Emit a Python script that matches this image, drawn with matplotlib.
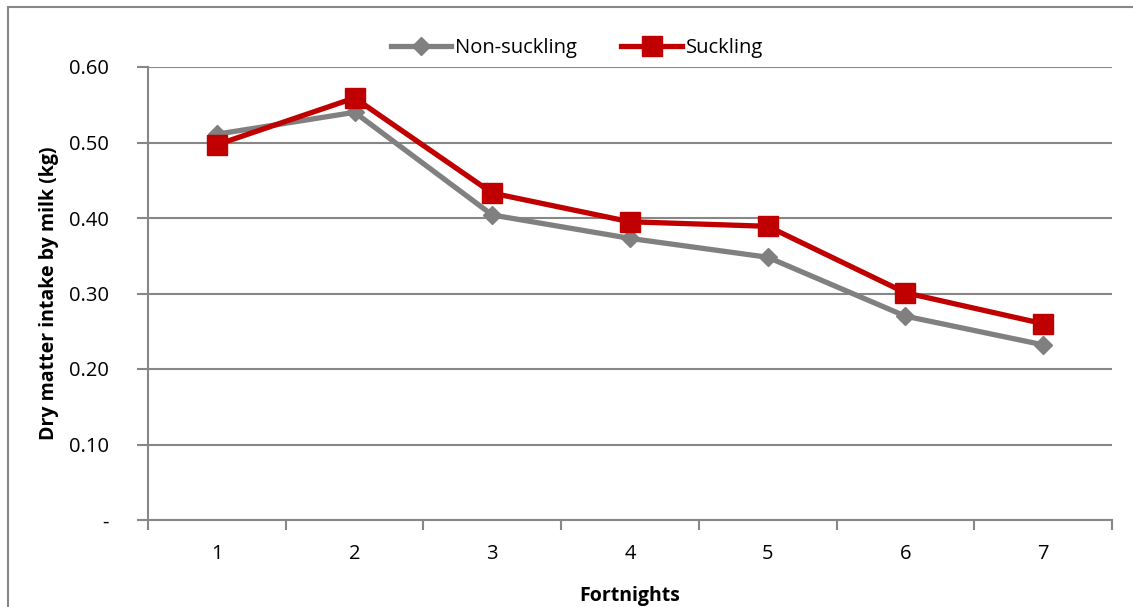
import matplotlib.pyplot as plt
from matplotlib.patches import Rectangle

fortnights = ["1", "2", "3", "4", "5", "6", "7"]
non_suckling = [0.511, 0.540, 0.404, 0.373, 0.348, 0.270, 0.232]
suckling = [0.497, 0.559, 0.433, 0.395, 0.389, 0.301, 0.260]
yticks = [0, 0.1, 0.2, 0.3, 0.4, 0.5, 0.6]
ytick_labels = ["-", "0.10", "0.20", "0.30", "0.40", "0.50", "0.60"]

plt.rcParams["font.family"] = ["Open Sans", "DejaVu Sans"]

fig = plt.figure(figsize=(11.33, 6.07), dpi=100)
ax = fig.add_axes([148 / 1133, 1 - 520 / 607, 964 / 1133, 453 / 607])

# outer chart border
fig.patches.append(Rectangle((8 / 1133, -0.1), 1.2, 1 - 7 / 607 + 0.1,
                             transform=fig.transFigure, fill=False,
                             edgecolor="#878787", linewidth=1.5))

x = list(range(len(fortnights)))
ax.plot(x, non_suckling, color="#808080", linewidth=3.8, marker="D",
        markersize=9, label="Non-suckling")
ax.plot(x, suckling, color="#c00000", linewidth=3.8, marker="s",
        markersize=14, label="Suckling")

ax.set_xlim(-0.5, len(fortnights) - 0.5)
ax.set_ylim(0, 0.6)
ax.set_yticks(yticks)
ax.set_yticklabels(ytick_labels)
ax.set_xticks(x)
ax.set_xticklabels(fortnights)
ax.set_xticks([i - 0.5 for i in range(len(fortnights) + 1)], minor=True)
ax.tick_params(axis="x", which="major", length=0, pad=17, labelsize=14.5)
ax.tick_params(axis="x", which="minor", length=7, width=1.5, color="#878787")
ax.tick_params(axis="y", length=8, width=1.5, color="#878787", labelsize=14.5, pad=20)

ax.grid(axis="y", color="#878787", linewidth=1.5)
ax.set_axisbelow(True)
for s in ["top", "right"]:
    ax.spines[s].set_visible(False)
for s in ["left", "bottom"]:
    ax.spines[s].set_color("#878787")
    ax.spines[s].set_linewidth(1.5)

ax.set_ylabel("Dry matter intake by milk (kg)", fontsize=14, fontweight="bold", labelpad=7)
ax.set_xlabel("Fortnights", fontsize=14, fontweight="bold", labelpad=16)

ax.legend(loc="lower center", bbox_to_anchor=(0.445, 0.98), ncol=2, frameon=False,
          fontsize=14.5, handlelength=3, columnspacing=2.2, handletextpad=0.2)

fig.savefig("out.png", dpi=100)
